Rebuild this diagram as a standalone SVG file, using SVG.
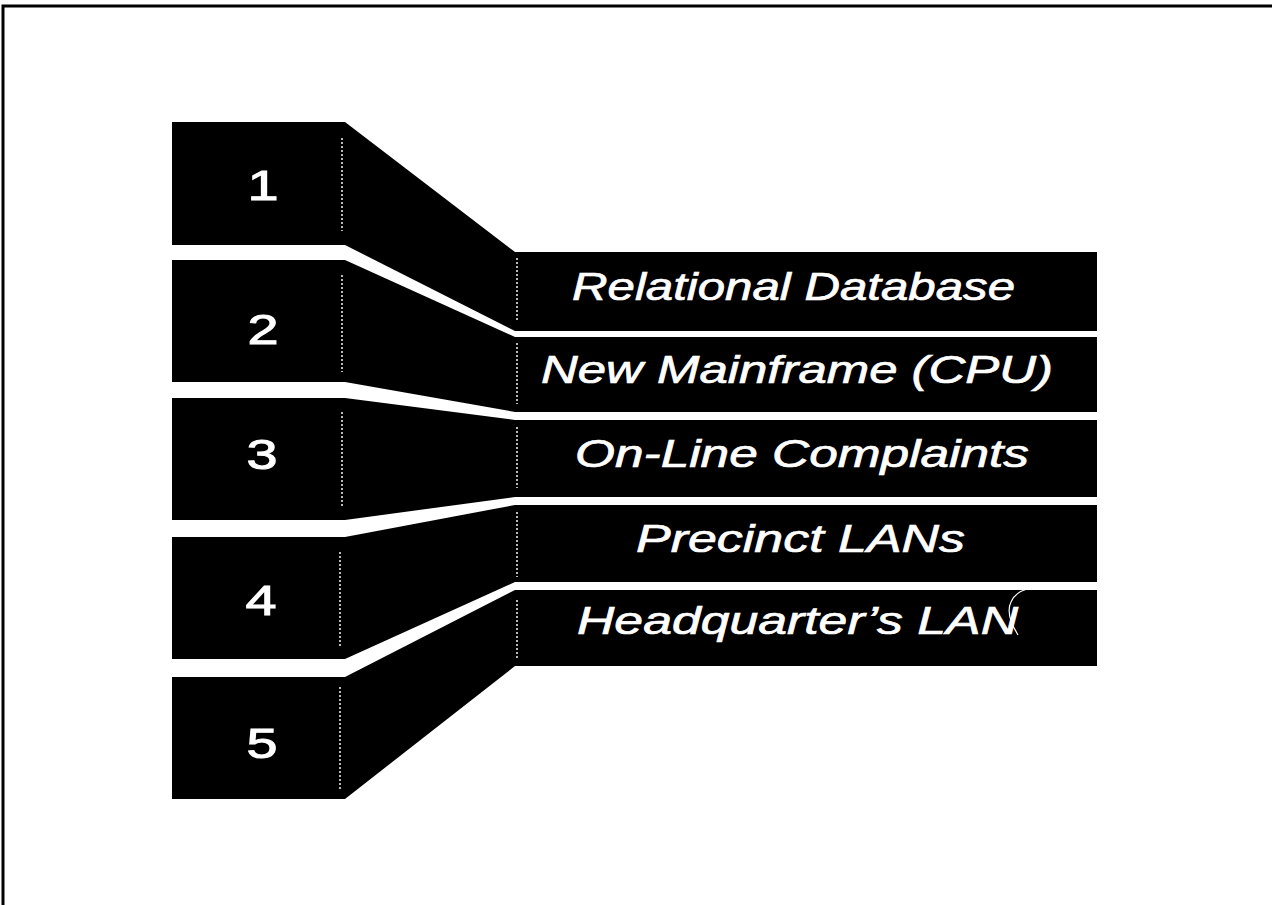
<svg xmlns="http://www.w3.org/2000/svg" width="1272" height="905" viewBox="0 0 1272 905">
  <style>
    .band { fill: #000; }
    .dots { stroke: #fff; stroke-width: 1.6; stroke-dasharray: 2 2; opacity: 0.9; fill: none; }
    .num { font-family: "Liberation Sans", Arial, sans-serif; font-size: 43px; fill: #fff; stroke: #fff; stroke-width: 1; text-anchor: middle; }
    .label { font-family: "Liberation Sans", Arial, sans-serif; font-size: 39px; font-style: italic; fill: #fff; stroke: #fff; stroke-width: 0.7; }
  </style>
  <rect x="0" y="0" width="1272" height="905" fill="#fff"/>
  <!-- page frame (top and left edges) -->
  <path d="M3,905 L3,6 L1272,6" fill="none" stroke="#000" stroke-width="3"/>

  <g id="connectors"/>

  <g id="node-1">
    <polygon class="band" points="172,122 345,122 515,252 1097,252 1097,331 515,331 345,245 172,245"/>
    <line class="dots" x1="342" y1="138" x2="342" y2="231"/>
    <line class="dots" x1="517" y1="258" x2="517" y2="322"/>
    <text class="num" transform="translate(263,200) scale(1.3,1)">1</text>
    <text class="label" x="572" y="300" textLength="443" lengthAdjust="spacingAndGlyphs">Relational Database</text>
  </g>

  <g id="node-2">
    <polygon class="band" points="172,260 345,260 515,337 1097,337 1097,412 515,412 345,382 172,382"/>
    <line class="dots" x1="342" y1="275" x2="342" y2="372"/>
    <line class="dots" x1="517" y1="343" x2="517" y2="404"/>
    <text class="num" transform="translate(263,344) scale(1.3,1)">2</text>
    <text class="label" x="541" y="383" textLength="512" lengthAdjust="spacingAndGlyphs">New Mainframe (CPU)</text>
  </g>

  <g id="node-3">
    <polygon class="band" points="172,398 345,398 515,420 1097,420 1097,497 515,497 345,520 172,520"/>
    <line class="dots" x1="342" y1="412" x2="342" y2="507"/>
    <line class="dots" x1="517" y1="427" x2="517" y2="488"/>
    <text class="num" transform="translate(262,469) scale(1.3,1)">3</text>
    <text class="label" x="575" y="467" textLength="454" lengthAdjust="spacingAndGlyphs">On-Line Complaints</text>
  </g>

  <g id="node-4">
    <polygon class="band" points="172,537 345,537 515,505 1097,505 1097,582 515,582 345,659 172,659"/>
    <line class="dots" x1="340" y1="552" x2="340" y2="647"/>
    <line class="dots" x1="517" y1="512" x2="517" y2="577"/>
    <text class="num" transform="translate(261,615) scale(1.3,1)">4</text>
    <text class="label" x="636" y="552" textLength="329" lengthAdjust="spacingAndGlyphs">Precinct LANs</text>
  </g>

  <g id="node-5">
    <polygon class="band" points="172,677 345,677 515,590 1097,590 1097,666 515,666 345,799 172,799"/>
    <line class="dots" x1="340" y1="687" x2="340" y2="790"/>
    <line class="dots" x1="517" y1="600" x2="517" y2="660"/>
    <text class="num" transform="translate(262,758) scale(1.3,1)">5</text>
    <text class="label" x="577" y="634" textLength="441" lengthAdjust="spacingAndGlyphs">Headquarter’s LAN</text>
    <!-- pen flourish over the final letter -->
    <path d="M1018,635 C1010,622 1007,610 1011,602 C1014,595 1020,591 1027,589" fill="none" stroke="#fff" stroke-width="1.2"/>
  </g>
</svg>
